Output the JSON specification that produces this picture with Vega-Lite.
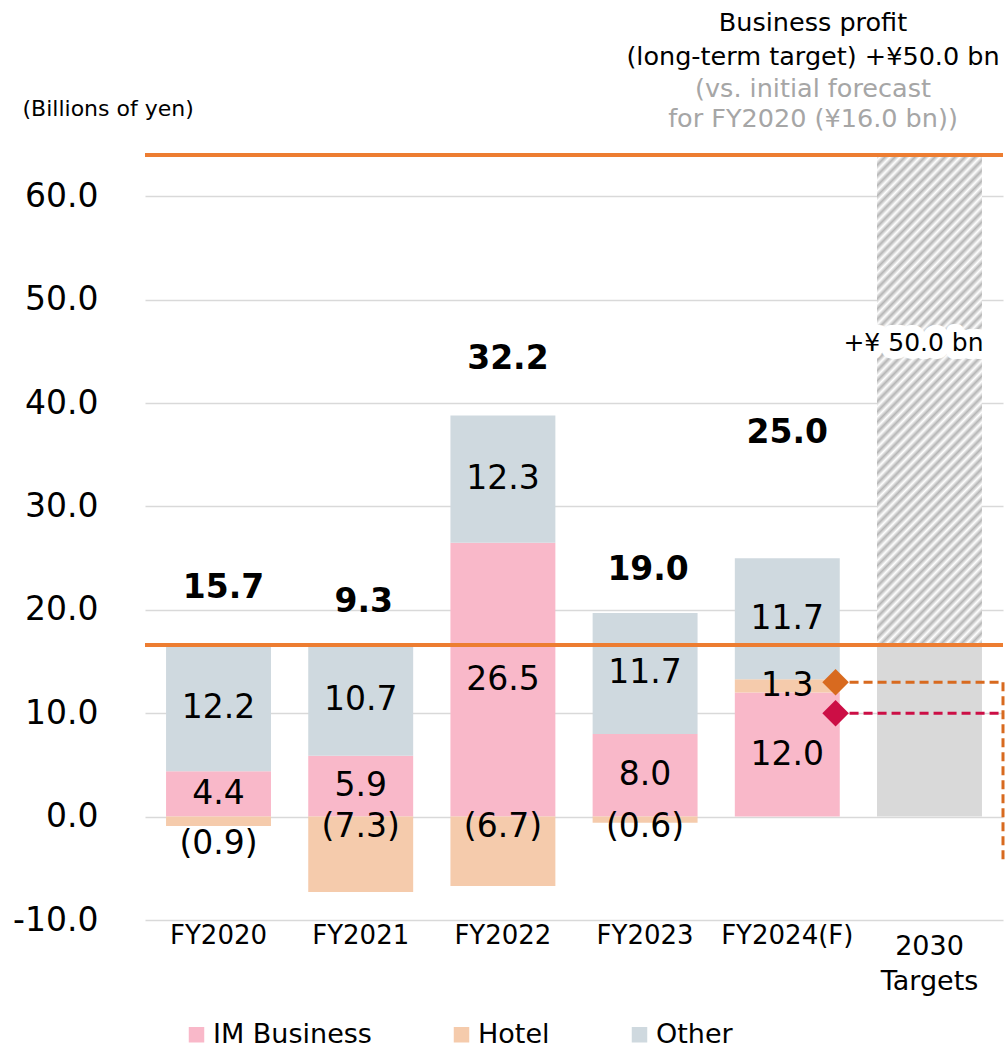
{
  "$schema": "https://vega.github.io/schema/vega-lite/v6.json",
  "autosize": "none",
  "width": 858,
  "height": 765,
  "padding": {"left": 145, "top": 155, "right": 4, "bottom": 129},
  "config": {"font": "DejaVu Sans", "view": {"stroke": null}},
  "title": {
    "text": ["Business profit", "(long-term target) +¥50.0 bn"],
    "subtitle": ["(vs. initial forecast", "for FY2020 (¥16.0 bn))"],
    "anchor": "end", "frame": "group", "align": "center", "dx": -190, "dy": 57,
    "fontSize": 25.5, "fontWeight": "normal", "color": "#000000", "lineHeight": 34,
    "subtitleFontSize": 25.5, "subtitleColor": "#A6A6A6", "subtitleLineHeight": 30, "subtitlePadding": 6,
    "offset": 22
  },
  "datasets": {
    "segments": [
      {"cat": "FY2020", "seg": "IM Business", "value": 4.4, "total": 15.7},
      {"cat": "FY2020", "seg": "Hotel", "value": -0.9, "total": 15.7},
      {"cat": "FY2020", "seg": "Other", "value": 12.2, "total": 15.7},
      {"cat": "FY2021", "seg": "IM Business", "value": 5.9, "total": 9.3},
      {"cat": "FY2021", "seg": "Hotel", "value": -7.3, "total": 9.3},
      {"cat": "FY2021", "seg": "Other", "value": 10.7, "total": 9.3},
      {"cat": "FY2022", "seg": "IM Business", "value": 26.5, "total": 32.2},
      {"cat": "FY2022", "seg": "Hotel", "value": -6.7, "total": 32.2},
      {"cat": "FY2022", "seg": "Other", "value": 12.3, "total": 32.2},
      {"cat": "FY2023", "seg": "IM Business", "value": 8.0, "total": 19.0},
      {"cat": "FY2023", "seg": "Hotel", "value": -0.6, "total": 19.0},
      {"cat": "FY2023", "seg": "Other", "value": 11.7, "total": 19.0},
      {"cat": "FY2024(F)", "seg": "IM Business", "value": 12.0, "total": 25.0},
      {"cat": "FY2024(F)", "seg": "Hotel", "value": 1.3, "total": 25.0},
      {"cat": "FY2024(F)", "seg": "Other", "value": 11.7, "total": 25.0}
    ],
    "target": [
      {"cat": "2030 Targets", "base": 16.6, "top": 64.0}
    ],
    "markers": [
      {"cat": "FY2024(F)", "kind": "Hotel", "value": 13.0},
      {"cat": "FY2024(F)", "kind": "IM", "value": 10.0}
    ]
  },
  "layer": [
    {
      "data": {"name": "target"},
      "mark": {"type": "bar", "color": "#D9D9D9"},
      "encoding": {
        "x": {"field": "cat", "type": "nominal",
          "scale": {"domain": ["FY2020", "FY2021", "FY2022", "FY2023", "FY2024(F)", "2030 Targets"], "paddingInner": 0.262, "paddingOuter": 0.148},
          "axis": {
            "title": null, "domain": false, "ticks": false, "grid": false, "labelAngle": 0,
            "labelPadding": 2, "labelColor": "#000000", "labelFontSize": 26,
            "labelExpr": "datum.value == '2030 Targets' ? '' : datum.label"
          }
        },
        "y": {"field": "base", "type": "quantitative",
          "scale": {"domain": [-10, 64], "nice": false, "zero": false},
          "axis": {
            "values": [-10, 0, 10, 20, 30, 40, 50, 60],
            "labelExpr": "datum.value < 0 ? '-' + format(-datum.value, '.1f') : format(datum.value, '.1f')",
            "domain": false, "ticks": false, "labelFontSize": 33, "labelColor": "#000000", "labelPadding": 47,
            "gridColor": "#D9D9D9", "gridWidth": 1.5,
            "title": "(Billions of yen)", "titleAngle": 0, "titleAlign": "left", "titleBaseline": "middle",
            "titleX": -123, "titleY": -47, "titleFontSize": 22, "titleFontWeight": "normal", "titleColor": "#000000"
          }
        }
      }
    },
    {
      "data": {"name": "target"},
      "mark": {"type": "text", "fontSize": 27, "color": "#000000", "baseline": "top", "lineHeight": 35, "dy": 14, "clip": false},
      "encoding": {
        "x": {"field": "cat", "type": "nominal"},
        "y": {"datum": -10, "type": "quantitative"},
        "text": {"value": ["2030", "Targets"]}
      }
    },
    {
      "data": {"name": "target"},
      "mark": {"type": "bar", "color": {
        "gradient": "linear", "x1": 0, "y1": 0, "x2": 0.264, "y2": 1.2,
        "stops": [
          {"offset": 0, "color": "#B5B5B5"}, {"offset": 0.0083, "color": "#FFFFFF"}, {"offset": 0.0167, "color": "#B5B5B5"}, {"offset": 0.025, "color": "#FFFFFF"}, {"offset": 0.0333, "color": "#B5B5B5"}, {"offset": 0.0417, "color": "#FFFFFF"}, {"offset": 0.05, "color": "#B5B5B5"}, {"offset": 0.0583, "color": "#FFFFFF"}, {"offset": 0.0667, "color": "#B5B5B5"}, {"offset": 0.075, "color": "#FFFFFF"}, {"offset": 0.0833, "color": "#B5B5B5"}, {"offset": 0.0917, "color": "#FFFFFF"},
          {"offset": 0.1, "color": "#B5B5B5"}, {"offset": 0.1083, "color": "#FFFFFF"}, {"offset": 0.1167, "color": "#B5B5B5"}, {"offset": 0.125, "color": "#FFFFFF"}, {"offset": 0.1333, "color": "#B5B5B5"}, {"offset": 0.1417, "color": "#FFFFFF"}, {"offset": 0.15, "color": "#B5B5B5"}, {"offset": 0.1583, "color": "#FFFFFF"}, {"offset": 0.1667, "color": "#B5B5B5"}, {"offset": 0.175, "color": "#FFFFFF"}, {"offset": 0.1833, "color": "#B5B5B5"}, {"offset": 0.1917, "color": "#FFFFFF"},
          {"offset": 0.2, "color": "#B5B5B5"}, {"offset": 0.2083, "color": "#FFFFFF"}, {"offset": 0.2167, "color": "#B5B5B5"}, {"offset": 0.225, "color": "#FFFFFF"}, {"offset": 0.2333, "color": "#B5B5B5"}, {"offset": 0.2417, "color": "#FFFFFF"}, {"offset": 0.25, "color": "#B5B5B5"}, {"offset": 0.2583, "color": "#FFFFFF"}, {"offset": 0.2667, "color": "#B5B5B5"}, {"offset": 0.275, "color": "#FFFFFF"}, {"offset": 0.2833, "color": "#B5B5B5"}, {"offset": 0.2917, "color": "#FFFFFF"},
          {"offset": 0.3, "color": "#B5B5B5"}, {"offset": 0.3083, "color": "#FFFFFF"}, {"offset": 0.3167, "color": "#B5B5B5"}, {"offset": 0.325, "color": "#FFFFFF"}, {"offset": 0.3333, "color": "#B5B5B5"}, {"offset": 0.3417, "color": "#FFFFFF"}, {"offset": 0.35, "color": "#B5B5B5"}, {"offset": 0.3583, "color": "#FFFFFF"}, {"offset": 0.3667, "color": "#B5B5B5"}, {"offset": 0.375, "color": "#FFFFFF"}, {"offset": 0.3833, "color": "#B5B5B5"}, {"offset": 0.3917, "color": "#FFFFFF"},
          {"offset": 0.4, "color": "#B5B5B5"}, {"offset": 0.4083, "color": "#FFFFFF"}, {"offset": 0.4167, "color": "#B5B5B5"}, {"offset": 0.425, "color": "#FFFFFF"}, {"offset": 0.4333, "color": "#B5B5B5"}, {"offset": 0.4417, "color": "#FFFFFF"}, {"offset": 0.45, "color": "#B5B5B5"}, {"offset": 0.4583, "color": "#FFFFFF"}, {"offset": 0.4667, "color": "#B5B5B5"}, {"offset": 0.475, "color": "#FFFFFF"}, {"offset": 0.4833, "color": "#B5B5B5"}, {"offset": 0.4917, "color": "#FFFFFF"},
          {"offset": 0.5, "color": "#B5B5B5"}, {"offset": 0.5083, "color": "#FFFFFF"}, {"offset": 0.5167, "color": "#B5B5B5"}, {"offset": 0.525, "color": "#FFFFFF"}, {"offset": 0.5333, "color": "#B5B5B5"}, {"offset": 0.5417, "color": "#FFFFFF"}, {"offset": 0.55, "color": "#B5B5B5"}, {"offset": 0.5583, "color": "#FFFFFF"}, {"offset": 0.5667, "color": "#B5B5B5"}, {"offset": 0.575, "color": "#FFFFFF"}, {"offset": 0.5833, "color": "#B5B5B5"}, {"offset": 0.5917, "color": "#FFFFFF"},
          {"offset": 0.6, "color": "#B5B5B5"}, {"offset": 0.6083, "color": "#FFFFFF"}, {"offset": 0.6167, "color": "#B5B5B5"}, {"offset": 0.625, "color": "#FFFFFF"}, {"offset": 0.6333, "color": "#B5B5B5"}, {"offset": 0.6417, "color": "#FFFFFF"}, {"offset": 0.65, "color": "#B5B5B5"}, {"offset": 0.6583, "color": "#FFFFFF"}, {"offset": 0.6667, "color": "#B5B5B5"}, {"offset": 0.675, "color": "#FFFFFF"}, {"offset": 0.6833, "color": "#B5B5B5"}, {"offset": 0.6917, "color": "#FFFFFF"},
          {"offset": 0.7, "color": "#B5B5B5"}, {"offset": 0.7083, "color": "#FFFFFF"}, {"offset": 0.7167, "color": "#B5B5B5"}, {"offset": 0.725, "color": "#FFFFFF"}, {"offset": 0.7333, "color": "#B5B5B5"}, {"offset": 0.7417, "color": "#FFFFFF"}, {"offset": 0.75, "color": "#B5B5B5"}, {"offset": 0.7583, "color": "#FFFFFF"}, {"offset": 0.7667, "color": "#B5B5B5"}, {"offset": 0.775, "color": "#FFFFFF"}, {"offset": 0.7833, "color": "#B5B5B5"}, {"offset": 0.7917, "color": "#FFFFFF"},
          {"offset": 0.8, "color": "#B5B5B5"}, {"offset": 0.8083, "color": "#FFFFFF"}, {"offset": 0.8167, "color": "#B5B5B5"}, {"offset": 0.825, "color": "#FFFFFF"}, {"offset": 0.8333, "color": "#B5B5B5"}, {"offset": 0.8417, "color": "#FFFFFF"}, {"offset": 0.85, "color": "#B5B5B5"}, {"offset": 0.8583, "color": "#FFFFFF"}, {"offset": 0.8667, "color": "#B5B5B5"}, {"offset": 0.875, "color": "#FFFFFF"}, {"offset": 0.8833, "color": "#B5B5B5"}, {"offset": 0.8917, "color": "#FFFFFF"},
          {"offset": 0.9, "color": "#B5B5B5"}, {"offset": 0.9083, "color": "#FFFFFF"}, {"offset": 0.9167, "color": "#B5B5B5"}, {"offset": 0.925, "color": "#FFFFFF"}, {"offset": 0.9333, "color": "#B5B5B5"}, {"offset": 0.9417, "color": "#FFFFFF"}, {"offset": 0.95, "color": "#B5B5B5"}, {"offset": 0.9583, "color": "#FFFFFF"}, {"offset": 0.9667, "color": "#B5B5B5"}, {"offset": 0.975, "color": "#FFFFFF"}, {"offset": 0.9833, "color": "#B5B5B5"}, {"offset": 0.9917, "color": "#FFFFFF"},
          {"offset": 1, "color": "#B5B5B5"}
        ]
      }},
      "encoding": {
        "x": {"field": "cat", "type": "nominal"},
        "y": {"field": "base", "type": "quantitative"},
        "y2": {"field": "top"}
      }
    },
    {
      "data": {"name": "target"},
      "mark": {"type": "text", "fontSize": 25, "color": "#FFFFFF", "stroke": "#FFFFFF", "strokeWidth": 16, "strokeJoin": "round", "baseline": "middle", "dx": -16},
      "encoding": {
        "x": {"field": "cat", "type": "nominal"},
        "y": {"datum": 45.8, "type": "quantitative"},
        "text": {"value": "+¥ 50.0 bn"}
      }
    },
    {
      "data": {"name": "target"},
      "mark": {"type": "text", "fontSize": 25, "color": "#000000", "baseline": "middle", "dx": -16},
      "encoding": {
        "x": {"field": "cat", "type": "nominal"},
        "y": {"datum": 45.8, "type": "quantitative"},
        "text": {"value": "+¥ 50.0 bn"}
      }
    },
    {
      "data": {"name": "segments"},
      "transform": [
        {"calculate": "indexof(['IM Business', 'Hotel', 'Other'], datum.seg)", "as": "rank"},
        {"stack": "value", "groupby": ["cat"], "sort": [{"field": "rank", "order": "ascending"}], "as": ["y0", "y1"]}
      ],
      "mark": {"type": "bar"},
      "encoding": {
        "x": {"field": "cat", "type": "nominal"},
        "y": {"field": "y0", "type": "quantitative"},
        "y2": {"field": "y1"},
        "color": {"field": "seg", "type": "nominal",
          "scale": {"domain": ["IM Business", "Hotel", "Other"], "range": ["#F9B8C9", "#F5CBAC", "#CFD9DF"]},
          "legend": {
            "title": null, "orient": "none", "direction": "horizontal", "legendX": 38, "legendY": 866,
            "symbolType": "square", "symbolSize": 240, "symbolStrokeWidth": 0, "labelFontSize": 27, "labelColor": "#000000",
            "labelOffset": 3, "columnPadding": 76, "padding": 0, "labelLimit": 300
          }
        }
      }
    },
    {
      "data": {"name": "segments"},
      "transform": [
        {"calculate": "indexof(['IM Business', 'Hotel', 'Other'], datum.seg)", "as": "rank"},
        {"stack": "value", "groupby": ["cat"], "sort": [{"field": "rank", "order": "ascending"}], "as": ["y0", "y1"]},
        {"filter": "datum.value > 0"},
        {"calculate": "(datum.y0 + datum.y1) / 2", "as": "mid"}
      ],
      "mark": {"type": "text", "fontSize": 33, "color": "#000000", "baseline": "middle"},
      "encoding": {
        "x": {"field": "cat", "type": "nominal"},
        "y": {"field": "mid", "type": "quantitative"},
        "text": {"field": "value", "type": "quantitative", "format": ".1f"}
      }
    },
    {
      "data": {"name": "segments"},
      "transform": [
        {"filter": "datum.value < 0 && datum.cat != 'FY2020'"},
        {"calculate": "'(' + format(abs(datum.value), '.1f') + ')'", "as": "lbl"}
      ],
      "mark": {"type": "text", "fontSize": 33, "color": "#000000", "baseline": "middle", "dy": 10},
      "encoding": {
        "x": {"field": "cat", "type": "nominal"},
        "y": {"datum": 0, "type": "quantitative"},
        "text": {"field": "lbl"}
      }
    },
    {
      "data": {"name": "segments"},
      "transform": [
        {"filter": "datum.value < 0 && datum.cat == 'FY2020'"},
        {"calculate": "'(' + format(abs(datum.value), '.1f') + ')'", "as": "lbl"}
      ],
      "mark": {"type": "text", "fontSize": 33, "color": "#000000", "baseline": "middle", "dy": 27},
      "encoding": {
        "x": {"field": "cat", "type": "nominal"},
        "y": {"datum": 0, "type": "quantitative"},
        "text": {"field": "lbl"}
      }
    },
    {
      "data": {"name": "segments"},
      "transform": [
        {"filter": "datum.value > 0 && (datum.cat == 'FY2020' || datum.cat == 'FY2022')"},
        {"aggregate": [{"op": "sum", "field": "value", "as": "top"}], "groupby": ["cat", "total"]}
      ],
      "mark": {"type": "text", "fontSize": 33, "fontWeight": "bold", "color": "#000000", "baseline": "middle", "dy": -57, "dx": 5},
      "encoding": {
        "x": {"field": "cat", "type": "nominal"},
        "y": {"field": "top", "type": "quantitative"},
        "text": {"field": "total", "type": "quantitative", "format": ".1f"}
      }
    },
    {
      "data": {"name": "segments"},
      "transform": [
        {"filter": "datum.value > 0 && (datum.cat == 'FY2021' || datum.cat == 'FY2023')"},
        {"aggregate": [{"op": "sum", "field": "value", "as": "top"}], "groupby": ["cat", "total"]}
      ],
      "mark": {"type": "text", "fontSize": 33, "fontWeight": "bold", "color": "#000000", "baseline": "middle", "dy": -43, "dx": 3},
      "encoding": {
        "x": {"field": "cat", "type": "nominal"},
        "y": {"field": "top", "type": "quantitative"},
        "text": {"field": "total", "type": "quantitative", "format": ".1f"}
      }
    },
    {
      "data": {"name": "segments"},
      "transform": [
        {"filter": "datum.value > 0 && datum.cat == 'FY2024(F)'"},
        {"aggregate": [{"op": "sum", "field": "value", "as": "top"}], "groupby": ["cat", "total"]}
      ],
      "mark": {"type": "text", "fontSize": 33, "fontWeight": "bold", "color": "#000000", "baseline": "middle", "dy": -125},
      "encoding": {
        "x": {"field": "cat", "type": "nominal"},
        "y": {"field": "top", "type": "quantitative"},
        "text": {"field": "total", "type": "quantitative", "format": ".1f"}
      }
    },
    {
      "data": {"name": "target"},
      "mark": {"type": "rule", "color": "#ED7D31", "strokeWidth": 4},
      "encoding": {"y": {"field": "base", "type": "quantitative"}}
    },
    {
      "data": {"name": "target"},
      "mark": {"type": "rule", "color": "#ED7D31", "strokeWidth": 4},
      "encoding": {"y": {"field": "top", "type": "quantitative"}}
    },
    {
      "data": {"name": "markers"},
      "mark": {"type": "rule", "strokeWidth": 3, "strokeDash": [9, 5]},
      "encoding": {
        "x": {"field": "cat", "type": "nominal", "bandPosition": 0.96},
        "x2": {"value": "width"},
        "y": {"field": "value", "type": "quantitative"},
        "color": {"condition": {"test": "datum.kind == 'Hotel'", "value": "#D86A1F"}, "value": "#CC0E45"}
      }
    },
    {
      "data": {"name": "markers"},
      "transform": [{"filter": "datum.kind == 'Hotel'"}],
      "mark": {"type": "rule", "strokeWidth": 3, "strokeDash": [9, 5], "color": "#D86A1F"},
      "encoding": {
        "x": {"value": "width"},
        "y": {"field": "value", "type": "quantitative"},
        "y2": {"datum": -4.3}
      }
    },
    {
      "data": {"name": "markers"},
      "mark": {"type": "point", "shape": "diamond", "filled": true, "size": 700, "opacity": 1},
      "encoding": {
        "x": {"field": "cat", "type": "nominal", "bandPosition": 0.96},
        "y": {"field": "value", "type": "quantitative"},
        "color": {"condition": {"test": "datum.kind == 'Hotel'", "value": "#D86A1F"}, "value": "#CC0E45"}
      }
    }
  ]
}
